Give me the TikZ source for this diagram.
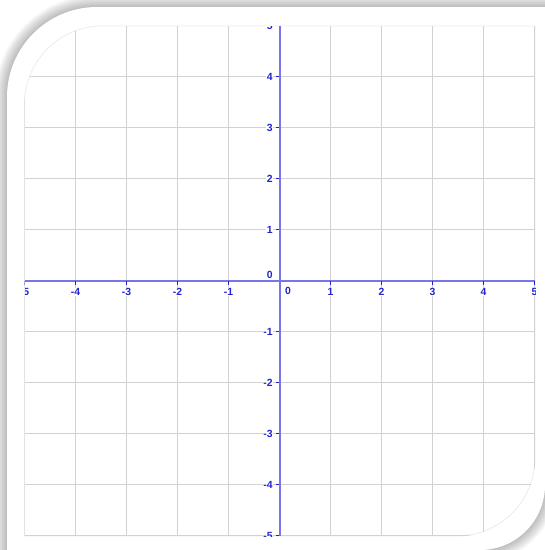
\documentclass[tikz,border=0pt]{standalone}
\usepackage{fontspec}
\setmainfont{Liberation Sans}
\definecolor{gridgray}{RGB}{210,210,210}
\definecolor{axisblue}{RGB}{118,118,232}
\definecolor{labelblue}{RGB}{35,35,205}
\definecolor{edgegray}{RGB}{236,236,236}
\begin{document}
\begin{tikzpicture}[x=1pt,y=-1pt,
  lbl/.style={text=labelblue,font=\fontsize{10.4}{11}\selectfont\bfseries,fill=white,inner sep=0.6pt},
  gridline/.style={draw=gridgray,line width=1pt},
  axisline/.style={draw=axisblue,line width=2pt},
  tickmark/.style={draw=labelblue,line width=1pt}]
\useasboundingbox (0,0) rectangle (545,550);
% shadow of the frame
\foreach \d in {1,...,12}{
  \fill[black,opacity=0.024]
    (7-\d,560) -- (7-\d,97)
    .. controls (7-\d,47.3-0.552*\d) and (47.3-0.552*\d,7-\d) .. (97,7-\d)
    -- (560,7-\d) -- (545+\d,7-\d) -- (545+\d,485)
    .. controls (545+\d,520.9+0.552*\d) and (515.9+0.552*\d,550+\d) .. (480,550+\d)
    -- (7-\d,550+\d) -- cycle;
}
% white frame
\fill[white] (7,560) -- (7,97) .. controls (7,47.3) and (47.3,7) .. (97,7)
  -- (560,7) -- (545,7) -- (545,485)
  .. controls (545,520.9) and (515.9,550) .. (480,550) -- (7,550) -- cycle;
% grid area
\draw[edgegray,line width=0.8pt] (24.5,536) -- (24.5,104) .. controls (24.5,61) and (59.5,26) .. (102.5,26)
  -- (535,26) -- (535,458) .. controls (535,501) and (500,536) .. (457,536) -- cycle;
\begin{scope}
\clip (24.5,536) -- (24.5,104) .. controls (24.5,61) and (59.5,26) .. (102.5,26)
  -- (535.5,26) -- (535.5,458) .. controls (535.5,501) and (500,536.5) .. (457,536.5) -- (24.5,536.5) -- cycle;
\foreach \i in {-5,...,5}{
  \draw[gridline] (279.5+51*\i,26) -- (279.5+51*\i,536);
  \draw[gridline] (24.5,280.5-51*\i) -- (535,280.5-51*\i);
}
\draw[axisline] (24.5,281) -- (535,281);
\draw[axisline] (280,26) -- (280,536);
\foreach \i in {-5,-4,-3,-2,-1,1,2,3,4,5}{
  \draw[tickmark] (279.5+51*\i,281) -- (279.5+51*\i,285);
  \draw[tickmark] (275.5,280.5-51*\i) -- (279,280.5-51*\i);
  \node[lbl] (xl\i) at (279.5+51*\i,291.8) {\i};
  \node[lbl,anchor=east] (yl\i) at (273.5,280.5-51*\i) {\i};
}
\node[lbl] (xzero) at (288,291.3) {0};
\node[lbl,anchor=east] (yzero) at (273.5,274.5) {0};
\end{scope}
\end{tikzpicture}
\end{document}
